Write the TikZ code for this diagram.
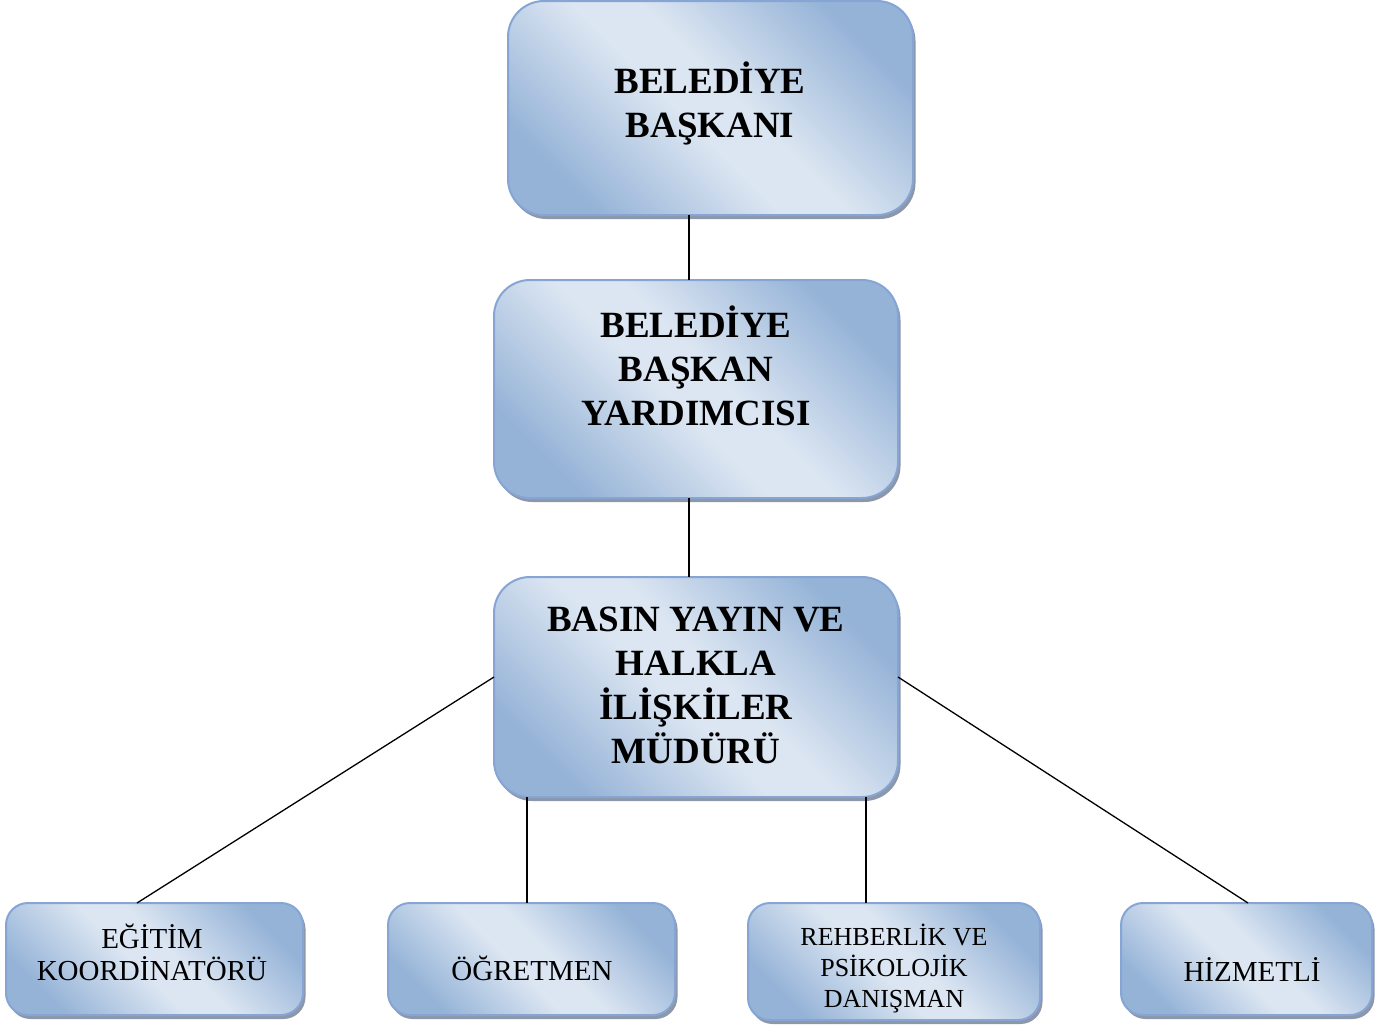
\documentclass[tikz,border=0pt]{standalone}
\usepackage{fontspec}
\setmainfont{Liberation Serif}
\usetikzlibrary{shadows}
\definecolor{lightc}{RGB}{220,230,242}
\definecolor{darkc}{RGB}{149,179,215}
\definecolor{bordc}{RGB}{134,165,212}
\definecolor{shadc}{RGB}{128,140,160}
\pgfdeclarehorizontalshading{boxshade}{100bp}{color(0bp)=(darkc); color(25bp)=(darkc); color(46bp)=(lightc); color(54bp)=(lightc); color(75bp)=(darkc); color(100bp)=(darkc)}
\tikzset{
  orgbox/.style={rounded corners=#1, draw=bordc, line width=2pt, outer sep=0pt, inner sep=0pt,
    shading=boxshade, shading angle=45,
    drop shadow={shadow xshift=2.5pt, shadow yshift=-4pt, fill=shadc, opacity=0.9}},
  bigtxt/.style={align=center, anchor=base, inner sep=0pt, font=\fontsize{37}{44}\selectfont\bfseries},
  smalltxt/.style={align=center, anchor=base, inner sep=0pt, font=\fontsize{29}{32}\selectfont},
  tinytxt/.style={align=center, anchor=base, inner sep=0pt, font=\fontsize{26}{31}\selectfont},
  conn/.style={draw=black, line width=1.3pt}
}
\begin{document}
\begin{tikzpicture}[x=1pt, y=-1pt]
\useasboundingbox (0,0) rectangle (1393,1034);
% boxes
\node[orgbox=36pt, minimum width=405pt, minimum height=214pt] (b1) at (710.5,108) {};
\node[orgbox=36pt, minimum width=404pt, minimum height=218pt] (b2) at (696,389) {};
\node[orgbox=36pt, minimum width=404pt, minimum height=220pt] (b3) at (696,687) {};
\node[orgbox=22pt, minimum width=297pt, minimum height=112pt] (b4) at (154.5,959) {};
\node[orgbox=22pt, minimum width=287pt, minimum height=112pt] (b5) at (531.5,959) {};
\node[orgbox=22pt, minimum width=292pt, minimum height=117pt] (b6) at (894,961.5) {};
\node[orgbox=22pt, minimum width=251pt, minimum height=112pt] (b7) at (1246.5,959) {};
% texts (anchor = baseline of last line)
\node[bigtxt] (t1) at (710,137) {BELEDİYE\\BAŞKANI};
\node[bigtxt] (t2) at (696,425) {BELEDİYE\\BAŞKAN\\YARDIMCISI};
\node[bigtxt] (t3) at (696,763) {BASIN YAYIN VE\\HALKLA\\İLİŞKİLER\\MÜDÜRÜ};
\node[smalltxt] (t4) at (152,980) {EĞİTİM\\KOORDİNATÖRÜ};
\node[smalltxt] (t5) at (532,980) {ÖĞRETMEN};
\node[tinytxt] (t6) at (894,1007) {REHBERLİK VE\\PSİKOLOJİK\\DANIŞMAN};
\node[smalltxt] (t7) at (1252,981) {HİZMETLİ};
% connectors
\draw[conn] (b1.south -| 689,0) -- (b2.north -| 689,0);
\draw[conn] (b2.south -| 689,0) -- (b3.north -| 689,0);
\draw[conn] ([yshift=10pt]b3.west) -- ([xshift=-17.5pt]b4.north);
\draw[conn] (b3.south -| 527,0) -- (b5.north -| 527,0);
\draw[conn] (b3.south -| 866,0) -- (b6.north -| 866,0);
\draw[conn] ([yshift=10pt]b3.east) -- ([xshift=1.5pt]b7.north);
\end{tikzpicture}
\end{document}
